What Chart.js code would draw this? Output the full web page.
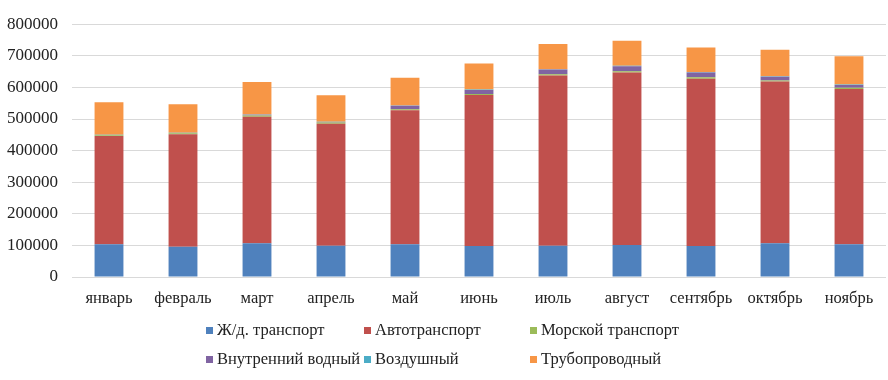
<!DOCTYPE html>
<html><head><meta charset="utf-8">
<script src="https://cdn.jsdelivr.net/npm/chart.js@4.4.0/dist/chart.umd.min.js"></script>
<style>
html,body{margin:0;padding:0;background:#fff;}
#wrap{position:relative;width:888px;height:380px;}
#legend{position:absolute;left:206px;top:320px;display:grid;grid-template-columns:158px 166px 200px;row-gap:9px;font-family:"Liberation Serif","Times New Roman",serif;font-size:16.5px;color:#222;}
#legend .it{display:flex;align-items:center;white-space:nowrap;}
#legend .bx{width:7px;height:7px;margin-right:4px;display:inline-block;}
</style></head>
<body><div id="wrap"><canvas id="c" width="888" height="380"></canvas><div id="legend"></div></div>
<script>
const categories = ["январь","февраль","март","апрель","май","июнь","июль","август","сентябрь","октябрь","ноябрь"];
const seriesNames = ["Ж/д. транспорт","Автотранспорт","Морской транспорт","Внутренний водный","Воздушный","Трубопроводный"];
const rail  = [103500, 96000, 106700, 99100, 103500, 98200, 99100, 101300, 98200, 106700, 103500];
const auto  = [342900, 355700, 400300, 385900, 424500, 477800, 538700, 545900, 529300, 512300, 491300];
const sea   = [2000, 3000, 4000, 4000, 3000, 3000, 4000, 4000, 5000, 3000, 4000];
const inland= [500, 500, 2500, 1500, 11000, 13000, 15000, 16000, 15000, 12000, 9000];
const air   = [1000, 1000, 1000, 1000, 1000, 1000, 1000, 1000, 1000, 1000, 1000];
const pipe  = [103100, 90600, 102300, 83500, 87600, 82400, 79500, 79400, 78100, 84400, 89600];
const yTicks = [0,100000,200000,300000,400000,500000,600000,700000,800000];
const colors = ["#4F81BD","#C0504D","#9BBB59","#8064A2","#4BACC6","#F79646"];
const values = [rail, auto, sea, inland, air, pipe];

const fx = {family:"'Liberation Serif','Times New Roman',serif", size:16.5};
const fy = {family:"'Liberation Serif','Times New Roman',serif", size:17};
const chart = new Chart(document.getElementById('c'), {
  type:'bar',
  data:{labels:categories, datasets: seriesNames.map((n,i)=>({label:n,data:values[i],backgroundColor:colors[i],borderWidth:0,barPercentage:0.39,categoryPercentage:1}))},
  options:{
    responsive:false, animation:false,
    layout:{padding:{left:0,right:2,top:22,bottom:70}},
    plugins:{legend:{display:false},tooltip:{enabled:false}},
    scales:{
      x:{stacked:true, grid:{display:false,drawTicks:false}, border:{display:false},
         ticks:{font:fx,color:'#222',padding:12,maxRotation:0,autoSkip:false},
         afterFit:s=>{s.height=33;}},
      y:{stacked:true, min:0, max:800000, grid:{color:'#d9d9d9',lineWidth:1,drawTicks:false}, border:{display:false},
         ticks:{font:fy,color:'#222',padding:14,stepSize:100000,callback:v=>yTicks.includes(v)?String(v):null},
         afterFit:s=>{s.width=72;}}
    }
  }
});
const lg = document.getElementById('legend');
chart.data.datasets.forEach(ds=>{
  const d=document.createElement('div');d.className='it';
  const b=document.createElement('span');b.className='bx';b.style.background=ds.backgroundColor;
  d.appendChild(b);d.appendChild(document.createTextNode(ds.label));lg.appendChild(d);
});
</script></body></html>
